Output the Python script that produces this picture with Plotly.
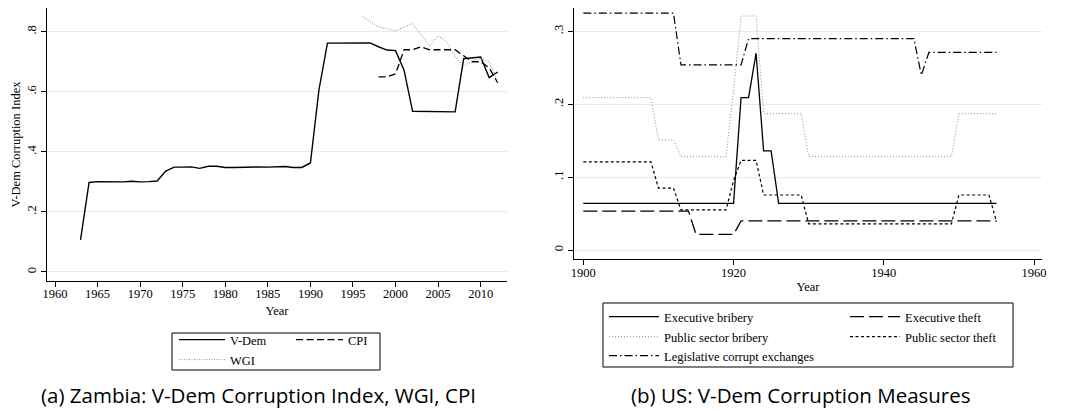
import plotly.graph_objects as go

# The page body has an 8px margin, so the figure is drawn 8px smaller
# and every reference coordinate is shifted by that offset.
OFF = 8
W, H = 1075 - OFF, 413 - OFF

# ---------------- Data: Zambia ----------------
zm_years = list(range(1963, 2013))
vdem = [0.107, 0.298, 0.301, 0.301, 0.299, 0.300, 0.302, 0.300, 0.301, 0.303,
        0.336, 0.349, 0.349, 0.350, 0.345, 0.352, 0.352, 0.348, 0.348, 0.349,
        0.350, 0.350, 0.349, 0.350, 0.351, 0.348, 0.348, 0.363, 0.606, 0.762,
        0.762, 0.763, 0.763, 0.763, 0.763, 0.750, 0.739, 0.737, 0.672, 0.535,
        0.535, 0.535, 0.535, 0.533, 0.533, 0.710, 0.714, 0.716, 0.647, 0.666]
cpi_years = [1998, 1999, 2000, 2001, 2002, 2003, 2004, 2005, 2006, 2007, 2008, 2009, 2010, 2011, 2012]
cpi = [0.65, 0.65, 0.66, 0.74, 0.74, 0.75, 0.74, 0.74, 0.74, 0.74, 0.72, 0.70, 0.70, 0.68, 0.63]
wgi_years = [1996, 1998, 2000, 2002, 2003, 2004, 2005, 2006, 2007, 2008, 2009, 2010, 2011, 2012]
wgi = [0.852, 0.816, 0.803, 0.827, 0.790, 0.752, 0.786, 0.767, 0.717, 0.684, 0.704, 0.710, 0.700, 0.634]

# ---------------- Data: US ----------------
us_years = list(range(1900, 1956))
exec_bribery = [0.064] * 21 + [0.209, 0.209, 0.270, 0.136, 0.136] + [0.064] * 30
exec_theft = [0.0535] * 15 + [0.0215] * 6 + [0.040] * 35
pub_bribery = ([0.209] * 10 + [0.151] * 3 + [0.128] * 7 + [0.22] + [0.321] * 3
               + [0.187] * 6 + [0.128] * 20 + [0.187] * 6)
pub_theft = ([0.121] * 10 + [0.085] * 3 + [0.055] * 7 + [0.095] + [0.123] * 3
             + [0.0755] * 6 + [0.036] * 20 + [0.0755] * 5 + [0.039])
legis = [0.325] * 13 + [0.254] * 9 + [0.290] * 23 + [0.240] + [0.271] * 10

zm_ticks = [1960, 1965, 1970, 1975, 1980, 1985, 1990, 1995, 2000, 2005, 2010]
zm_yticks = [0, 0.2, 0.4, 0.6, 0.8]
zm_ytext = ["0", ".2", ".4", ".6", ".8"]
us_ticks = [1900, 1920, 1940, 1960]
us_yticks = [0, 0.1, 0.2, 0.3]
us_ytext = ["0", ".1", ".2", ".3"]

SERIF = "Liberation Serif, Times New Roman, serif"
FS = 12.5
GRID = "#e3ecee"


def px(x):
    return min(max((x - OFF) / W, 0), 1)


def py(y):
    return min(max(1 - (y - OFF) / H, 0), 1)


fig = go.Figure()


def add(x, y, name, legend, xa, ya, color="black", width=1.3, dash="solid"):
    fig.add_trace(go.Scatter(x=x, y=y, name=name, mode="lines", legend=legend,
                             xaxis=xa, yaxis=ya, showlegend=True,
                             line=dict(color=color, width=width, dash=dash)))


add(zm_years, vdem, "V-Dem", "legend", "x", "y", width=1.4)
add(cpi_years, cpi, "CPI", "legend2", "x", "y", width=1.3, dash="7px,3.5px")
add(wgi_years, wgi, "WGI", "legend3", "x", "y", color="#8c8c8c", width=1.0, dash="1px,1.5px")

add(us_years, exec_bribery, "Executive bribery", "legend4", "x2", "y2", width=1.3)
add(us_years, exec_theft, "Executive theft", "legend5", "x2", "y2", width=1.3, dash="14px,5px")
add(us_years, pub_bribery, "Public sector bribery", "legend6", "x2", "y2", color="#8c8c8c", width=1.0, dash="1px,2px")
add(us_years, pub_theft, "Public sector theft", "legend7", "x2", "y2", width=1.2, dash="3px,2.5px")
add(us_years, legis, "Legislative corrupt exchanges", "legend8", "x2", "y2", width=1.2, dash="8px,3px,1.5px,3px")

axis_common = dict(showline=True, linecolor="black", linewidth=1, ticks="outside",
                   ticklen=5, tickcolor="black", tickwidth=1,
                   tickfont=dict(family=SERIF, size=FS, color="black"),
                   zeroline=False)

fig.update_layout(
    width=W, height=H, showlegend=True,
    margin=dict(l=0, r=0, t=0, b=0, autoexpand=False),
    paper_bgcolor="white", plot_bgcolor="white",
    font=dict(family=SERIF, size=FS, color="black"),
    xaxis=dict(domain=[px(47), px(507)], range=[1959.06, 2013.09],
               tickvals=zm_ticks, showgrid=False, anchor="y", ticklabelstandoff=-4,
               title=dict(text="Year", standoff=6, font=dict(family=SERIF, size=FS)),
               **axis_common),
    yaxis=dict(domain=[py(281), py(8)], range=[-0.03, 0.879],
               tickvals=zm_yticks, ticktext=zm_ytext, tickangle=-90,
               showgrid=True, gridcolor=GRID, gridwidth=1, anchor="x",
               title=dict(text="V-Dem Corruption Index", standoff=1, font=dict(family=SERIF, size=FS)),
               **axis_common),
    xaxis2=dict(domain=[px(574), px(1042)], range=[1898.76, 1961.06],
                tickvals=us_ticks, showgrid=False, anchor="y2", ticklabelstandoff=-3,
                title=dict(text="Year", standoff=3, font=dict(family=SERIF, size=FS)),
                **axis_common),
    yaxis2=dict(domain=[py(259), py(8)], range=[-0.0123, 0.332],
                tickvals=us_yticks, ticktext=us_ytext, tickangle=-90,
                showgrid=True, gridcolor=GRID, gridwidth=1, anchor="x2",
                **axis_common),
)

# one legend per entry, positioned inside drawn boxes
leg_common = dict(bgcolor="rgba(0,0,0,0)", borderwidth=0, xanchor="left", yanchor="middle",
                  font=dict(family=SERIF, size=FS, color="black"),
                  orientation="v", itemclick=False, itemdoubleclick=False)
positions = {
    "legend": (174, 340, 46),
    "legend2": (291, 340, 47),
    "legend3": (174, 360, 46),
    "legend4": (604, 317, 50),
    "legend5": (845, 317, 50),
    "legend6": (604, 337, 50),
    "legend7": (845, 337, 50),
    "legend8": (604, 356, 50),
}
for k, (lx, ly, iw) in positions.items():
    fig.update_layout({k: dict(x=px(lx), y=py(ly), itemwidth=iw, **leg_common)})

# legend frames
for (x0, y0, x1, y1) in [(172, 333, 380, 370), (603, 303, 1013, 367)]:
    fig.add_shape(type="rect", xref="paper", yref="paper",
                  x0=px(x0), x1=px(x1), y0=py(y1), y1=py(y0),
                  line=dict(color="black", width=1), fillcolor="rgba(0,0,0,0)")

# captions
cap_font = dict(family="Open Sans", size=20.5, color="black")
fig.add_annotation(text="(a) Zambia: V-Dem Corruption Index, WGI, CPI", x=px(258), y=py(395),
                   xref="paper", yref="paper", showarrow=False, font=cap_font,
                   xanchor="center", yanchor="middle")
fig.add_annotation(text="(b) US: V-Dem Corruption Measures", x=px(801), y=py(395),
                   xref="paper", yref="paper", showarrow=False, font=cap_font,
                   xanchor="center", yanchor="middle")

fig.write_html("out.html")
